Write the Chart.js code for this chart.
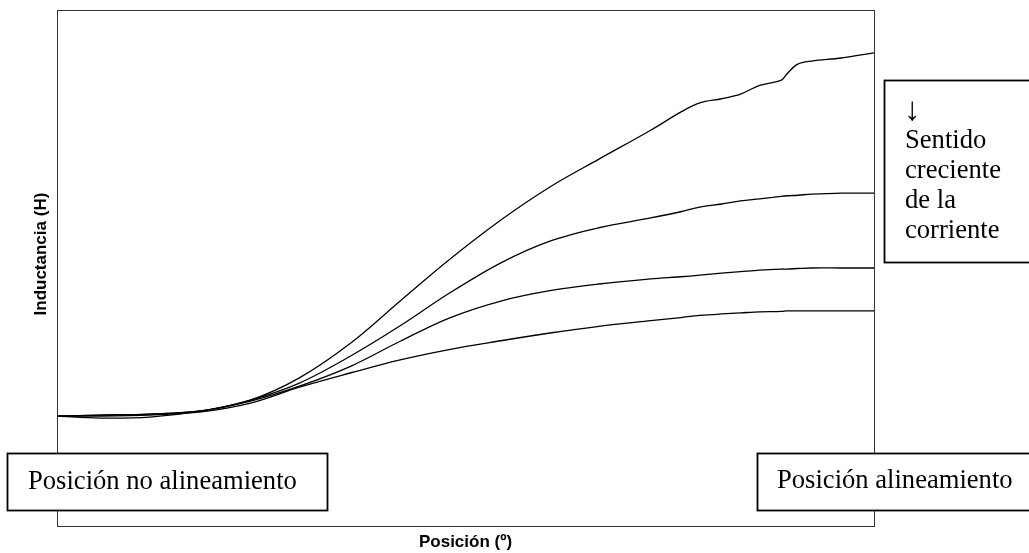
<!DOCTYPE html>
<html>
<head>
<meta charset="utf-8">
<title>Inductancia frente a posición</title>
<script src="https://cdn.jsdelivr.net/npm/chart.js@4/dist/chart.umd.min.js"></script>
<style>
  html, body { margin: 0; padding: 0; background: #fff; }
  #wrap { width: 1029px; height: 553px; position: relative; }
</style>
</head>
<body>
<div id="wrap"><canvas id="chart" width="1029" height="553"></canvas></div>
<script>
// Rotor position (degrees), from unaligned to aligned
const positions = [0, 1.6, 3.4, 5.3, 7.1, 8.9, 10.8, 12.6, 14.4, 16.3, 18.1, 19.9,
                   21.8, 22.9, 23.6, 24.4, 25.1, 25.8, 26.6, 26.8, 27.2, 27.7, 28.8, 30];

// Inductance curves (arbitrary units), one per current level
const inductanceI1 = [21.3, 20.9, 21.1, 22.3, 24.4, 28.7, 35.5, 43.6, 51.6, 59.3, 65.7, 71.1,
                      76.7, 80.2, 82.0, 82.8, 83.7, 85.4, 86.4, 87.6, 89.5, 90.1, 90.7, 91.7];
const inductanceI2 = [21.3, 21.5, 21.7, 22.3, 24.4, 27.7, 33.0, 38.8, 45.1, 51.0, 55.2, 57.8,
                      59.7, 60.9, 61.8, 62.4, 63.0, 63.4, 63.9, 64.0, 64.1, 64.3, 64.5, 64.5];
const inductanceI3 = [21.3, 21.5, 21.7, 22.3, 24.2, 27.1, 31.0, 35.8, 40.3, 43.6, 45.6, 46.9,
                      47.9, 48.3, 48.6, 49.0, 49.3, 49.6, 49.8, 49.8, 49.9, 50.0, 50.0, 50.0];
const inductanceI4 = [21.3, 21.3, 21.5, 22.1, 23.8, 26.9, 29.7, 32.2, 34.2, 35.9, 37.4, 38.7,
                      39.8, 40.4, 40.8, 41.1, 41.3, 41.5, 41.6, 41.7, 41.7, 41.7, 41.7, 41.7];

const seriesList = [inductanceI1, inductanceI2, inductanceI3, inductanceI4];

const xTitle = 'Posición (º)';
const yTitle = 'Inductancia (H)';
const labelUnaligned = 'Posición no alineamiento';
const labelAligned = 'Posición alineamiento';
const noteArrow = '↓';
const noteLines = ['Sentido', 'creciente', 'de la', 'corriente'];

const toPoints = vals => vals.map((v, i) => ({ x: positions[i], y: v }));

// Full frame around the plotting area
const framePlugin = {
  id: 'frame',
  beforeDatasetsDraw(chart) {
    const { ctx, chartArea: a } = chart;
    ctx.save();
    ctx.strokeStyle = '#333';
    ctx.lineWidth = 1;
    ctx.strokeRect(Math.round(a.left) + 0.5, Math.round(a.top) + 0.5,
                   Math.round(a.right - a.left), Math.round(a.bottom - a.top));
    ctx.restore();
  }
};

// Vertical axis title, set a little above the middle of the plot
const yTitlePlugin = {
  id: 'yTitle',
  afterDraw(chart) {
    const { ctx, chartArea: a } = chart;
    ctx.save();
    ctx.translate(a.left - 16, a.top + (a.bottom - a.top) * 0.473);
    ctx.rotate(-Math.PI / 2);
    ctx.font = 'bold 17px "Liberation Sans", Arial, sans-serif';
    ctx.fillStyle = '#000';
    ctx.textAlign = 'center';
    ctx.textBaseline = 'middle';
    ctx.fillText(yTitle, 0, 0);
    ctx.restore();
  }
};

// Text boxes placed over the chart
const notesPlugin = {
  id: 'notes',
  afterDraw(chart) {
    const { ctx } = chart;
    const box = (x, y, w, h) => {
      ctx.fillStyle = '#fff';
      ctx.fillRect(x, y, w, h);
      ctx.strokeStyle = '#000';
      ctx.lineWidth = 1.8;
      ctx.strokeRect(x, y, w, h);
    };
    const serif = '26.6px "Liberation Serif", "Times New Roman", serif';
    ctx.save();
    ctx.font = serif;
    ctx.textBaseline = 'alphabetic';
    ctx.textAlign = 'left';

    box(7.5, 453.5, 320, 57);
    ctx.fillStyle = '#000';
    ctx.fillText(labelUnaligned, 28, 489);

    box(757.5, 453.5, 290, 57);
    ctx.fillStyle = '#000';
    ctx.fillText(labelAligned, 777, 488);

    box(884.5, 80.5, 160, 182);
    ctx.fillStyle = '#000';
    ctx.font = '33px "Liberation Serif", serif';
    ctx.fillText(noteArrow, 904, 120);
    ctx.font = serif;
    noteLines.forEach((line, i) => ctx.fillText(line, 905, 148 + i * 30));
    ctx.restore();
  }
};

new Chart(document.getElementById('chart'), {
  type: 'line',
  data: {
    datasets: seriesList.map((vals, i) => ({
      label: 'I' + (i + 1),
      data: toPoints(vals),
      borderColor: '#000',
      borderWidth: 1.3,
      pointRadius: 0,
      fill: false,
      tension: 0.35
    }))
  },
  options: {
    responsive: false,
    animation: false,
    layout: { padding: { top: 10, right: 155, left: 57, bottom: 0 } },
    plugins: { legend: { display: false }, tooltip: { enabled: false } },
    scales: {
      x: {
        type: 'linear',
        min: 0, max: 30,
        grid: { display: false, drawTicks: false },
        border: { display: false },
        ticks: { display: false },
        title: {
          display: true, text: xTitle, color: '#000',
          font: { family: '"Liberation Sans", Arial, sans-serif', size: 17, weight: 'bold' },
          padding: { top: 6.6, bottom: 0 }
        }
      },
      y: {
        min: 0, max: 100,
        display: true,
        grid: { display: false, drawTicks: false },
        border: { display: false },
        ticks: { display: false },
        title: { display: false }
      }
    }
  },
  plugins: [framePlugin, yTitlePlugin, notesPlugin]
});
</script>
</body>
</html>
